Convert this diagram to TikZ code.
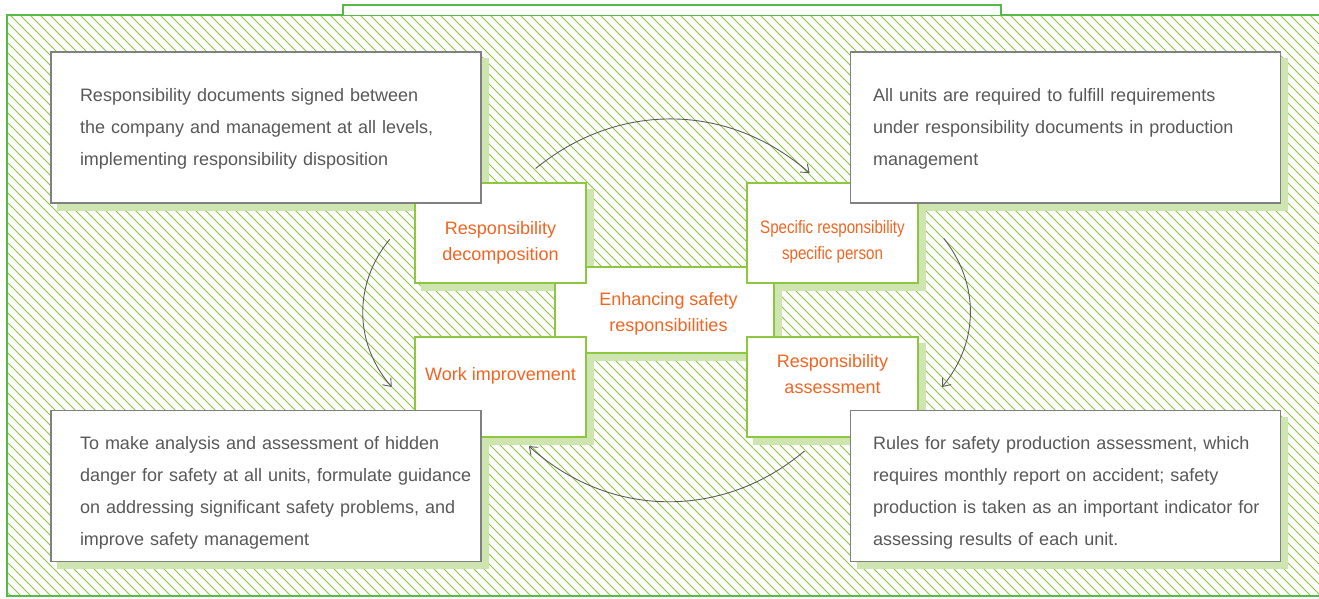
\documentclass[tikz,border=0pt]{standalone}
\usepackage{fontspec}
\setmainfont{Liberation Sans}
\newfontfamily\narrowsans{Liberation Sans}[FakeStretch=0.84]
\usetikzlibrary{positioning, arrows.meta, calc}

\definecolor{framegreen}{RGB}{84,186,72}
\definecolor{hatchgreen}{RGB}{138,198,62}
\definecolor{boxgreen}{RGB}{141,198,63}
\definecolor{shadegreen}{RGB}{206,229,176}
\definecolor{textgray}{RGB}{88,88,88}
\definecolor{linegray}{RGB}{128,128,128}
\definecolor{arrowgray}{RGB}{90,90,90}
\definecolor{labelorange}{RGB}{241,101,34}

\pgfdeclarelayer{back}
\pgfdeclarelayer{shade}
\pgfsetlayers{back,shade,main}

\newcommand{\boxlines}[1]{\begin{tabular}{@{}l@{}}#1\end{tabular}}
\newcommand{\lowlines}[1]{\raisebox{-5pt}[\height][\depth]{\boxlines{#1}}}

\begin{document}
\begin{tikzpicture}[x=1pt, y=1pt,
    textbox/.style={rectangle, draw=linegray, line width=1.2pt, fill=white, text=textgray,
        text width=372pt, inner xsep=29pt, inner ysep=0pt, minimum height=151pt, align=left,
        font=\fontsize{18}{32}\selectfont},
    rightbox/.style={textbox, text width=384pt, inner xsep=23pt},
    stepbox/.style={rectangle, draw=boxgreen, line width=2pt, fill=white,
        minimum width=171pt, minimum height=100pt, inner sep=0pt},
    steptext/.style={text=labelorange, align=center, font=\fontsize{18}{26}\selectfont},
    flow/.style={draw=arrowgray, line width=0.9pt, -{Straight Barb[length=7pt,width=11pt]}}]
    \useasboundingbox (0,0) rectangle (1319,-598);

    % centre and the four steps
    \node[stepbox, minimum width=219pt, minimum height=86pt] (core) at (664.5,-310) {};
    \node[stepbox] (dec) at (500.5,-233) {};
    \node[stepbox, right=159pt of dec] (spec) {};
    \node[stepbox, below=52pt of dec] (impr) {};
    \node[stepbox, right=159pt of impr] (assess) {};
    \node[steptext] (coretext) at ([shift={(4,-4)}]core.center) {Enhancing safety\\responsibilities};
    \node[steptext] (dectext) at ([yshift=-10]dec.center) {Responsibility\\decomposition};
    \node[steptext, font=\narrowsans\fontsize{18}{26}\selectfont] (spectext) at ([yshift=-9]spec.center) {Specific responsibility\\specific person};
    \node[steptext] (imprtext) at ([yshift=11]impr.center) {Work improvement};
    \node[steptext] (assesstext) at ([yshift=12.5]assess.center) {Responsibility\\assessment};

    % text boxes
    \node[textbox] (tl) at (266,-127.5) {\boxlines{Responsibility documents signed between\\the company and management at all levels,\\implementing responsibility disposition}};
    \node[rightbox, right=368pt of tl] (tr) {\boxlines{All units are required to fulfill requirements\\under responsibility documents in production\\management}};
    \node[textbox, below=206pt of tl] (bl) {\lowlines{To make analysis and assessment of hidden\\danger for safety at all units, formulate guidance\\on addressing significant safety problems, and\\improve safety management}};
    \node[rightbox, right=368pt of bl] (br) {\lowlines{Rules for safety production assessment, which\\requires monthly report on accident; safety\\production is taken as an important indicator for\\assessing results of each unit.}};

    % arcs
    \draw[flow] ([shift={(54,-41)}]tl.east) to[bend left=40] ([shift={(-40,-45.5)}]tr.west);
    \draw[flow] ([shift={(24.7,-5.3)}]spec.east) to[bend left=39] ([shift={(23,0)}]assess.east);
    \draw[flow] ([shift={(-45,34.8)}]br.west) to[bend left=41] ([shift={(47.3,39.5)}]bl.east);
    \draw[flow] ([shift={(-24.3,-6.3)}]dec.west) to[bend right=40] ([shift={(-22.3,0)}]impr.west);

    % shadows
    \begin{pgfonlayer}{shade}
        \foreach \n in {core,dec,spec,impr,assess,tl,tr,bl,br}
            \fill[shadegreen] ([shift={(7,-7)}]\n.south west) rectangle ([shift={(7,-7)}]\n.north east);
    \end{pgfonlayer}

    % hatched panel and frame
    \begin{pgfonlayer}{back}
        \begin{scope}
            \clip (7,-15) rectangle (1319,-596);
            \foreach \a in {-600,-590,...,1320}
                \draw[hatchgreen, line width=1pt] (\a,-15) -- ++(581,-581);
        \end{scope}
        \draw[framegreen, line width=2pt] (1330,-15) -- (7,-15) -- (7,-596) -- (1330,-596);
        \draw[framegreen, line width=2pt, fill=white] (343,-15) -- (343,-4.5) -- (1000.5,-4.5) -- (1000.5,-15);
    \end{pgfonlayer}
\end{tikzpicture}
\end{document}
